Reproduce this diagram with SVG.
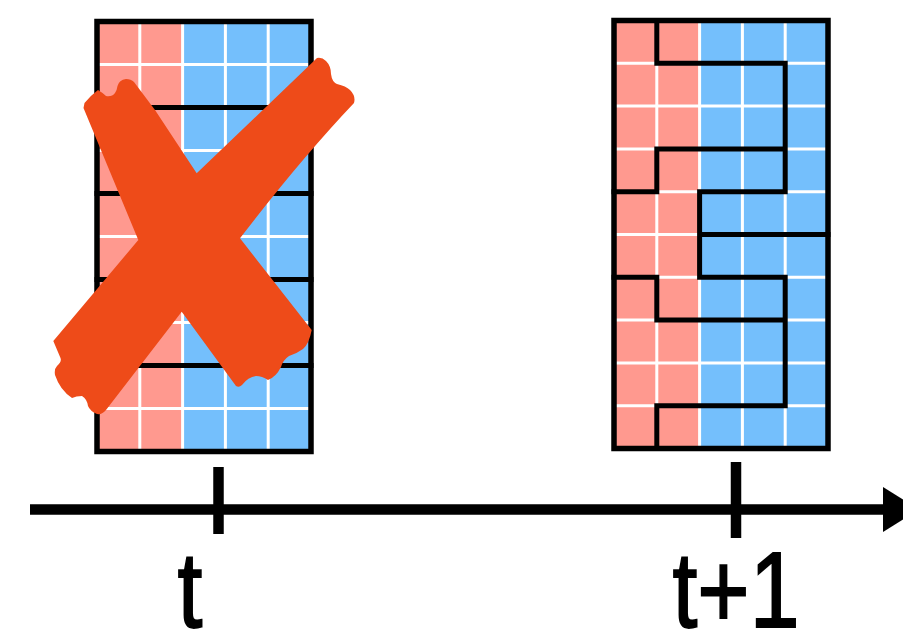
<svg xmlns="http://www.w3.org/2000/svg" width="903" height="631" viewBox="0 0 903 631">
  <style>
    .red { fill: #FF998F; }
    .blue { fill: #74BFFC; }
    .wl { stroke: #FFFFFF; stroke-width: 3; fill: none; }
    .bl { stroke: #000000; stroke-width: 5; fill: none; stroke-linecap: square; stroke-linejoin: miter; }
    .border { stroke: #000000; stroke-width: 5.5; fill: none; }
    .axis { stroke: #000000; stroke-width: 10.5; fill: none; }
    .lbl { font-family: "Liberation Sans", Arial, sans-serif; font-size: 108px; fill: #000000; stroke: #000000; stroke-width: 1.8; text-anchor: middle; }
    .cross { fill: #EE4B19; }
  </style>

  <g id="grid-t">
    <rect class="red" x="97" y="21.5" width="85.6" height="430"/>
    <rect class="blue" x="182.6" y="21.5" width="128.4" height="430"/>
    <path class="wl" d="M139.8,21.5 V451.5 M182.6,21.5 V451.5 M225.4,21.5 V451.5 M268.2,21.5 V451.5
      M97,64.5 H311 M97,107.5 H311 M97,150.5 H311 M97,193.5 H311 M97,236.5 H311
      M97,279.5 H311 M97,322.5 H311 M97,365.5 H311 M97,408.5 H311"/>
    <path class="bl" d="M97,107.5 H311 M97,193.5 H311 M97,279.5 H311 M97,365.5 H311"/>
    <rect class="border" x="97" y="21.5" width="214" height="430"/>
  </g>

  <g id="cross">
    <path class="cross" d="M83.5,108 L84.5,103 Q90,96 98,90 Q103,93 106,96 Q112,97 115,93 Q117,90 117.5,86 Q119,80 126,79 Q131,79 134,82
      L155,110 L196.7,173.3 L317,58
      Q322,57 326,61 Q331,66 331,74 Q332,82 337,84 Q346,86 350,90 Q356,96 354,103
      Q300,160 240,238.3 L311.7,330
      Q309,344 303,349 Q296,354 289,356 Q283,360 281,367 Q276,377 268,380 Q262,376 256,376 Q248,377 242,385 Q239,388 236,386
      L181.7,311.7 L106,410
      Q102,415 97,414 Q90,411 88,406 Q87,399 82,396 Q76,396 72,398 Q60,390 55,375 Q54,369 57,366 Q62,362 60.5,358 L53.3,341
      L138.3,240 Z"/>
  </g>

  <g id="grid-t1">
    <rect class="red" x="614" y="20.5" width="85.6" height="428"/>
    <rect class="blue" x="699.6" y="20.5" width="128.4" height="428"/>
    <path class="wl" d="M656.8,20.5 V448.5 M699.6,20.5 V448.5 M742.4,20.5 V448.5 M785.2,20.5 V448.5
      M614,63.3 H828 M614,106.1 H828 M614,148.9 H828 M614,191.7 H828 M614,234.5 H828
      M614,277.3 H828 M614,320.1 H828 M614,362.9 H828 M614,405.7 H828"/>
    <path class="bl" d="M656.8,20.5 V63.3 H785.2 V191.7
      M614,191.7 H656.8 V148.9 H785.2
      M785.2,191.7 H699.6 V277.3 H785.2
      M699.6,234.5 H828
      M614,277.3 H656.8 V320.1 H785.2
      M785.2,277.3 V405.7 H656.8 V448.5"/>
    <rect class="border" x="614" y="20.5" width="214" height="428"/>
  </g>

  <g id="connectors">
    <line class="axis" x1="30" y1="509.5" x2="886" y2="509.5"/>
    <polygon points="883,487 919,509.5 883,532" fill="#000000"/>
    <line class="axis" x1="218.5" y1="467" x2="218.5" y2="534"/>
    <line class="axis" x1="736" y1="462" x2="736" y2="538"/>
  </g>

  <g id="label-t">
    <text class="lbl" transform="translate(190,627) scale(0.83,1)" x="0" y="0">t</text>
  </g>
  <g id="label-t1">
    <text class="lbl" transform="translate(736,627) scale(0.83,1)" x="0" y="0">t+1</text>
  </g>
</svg>
